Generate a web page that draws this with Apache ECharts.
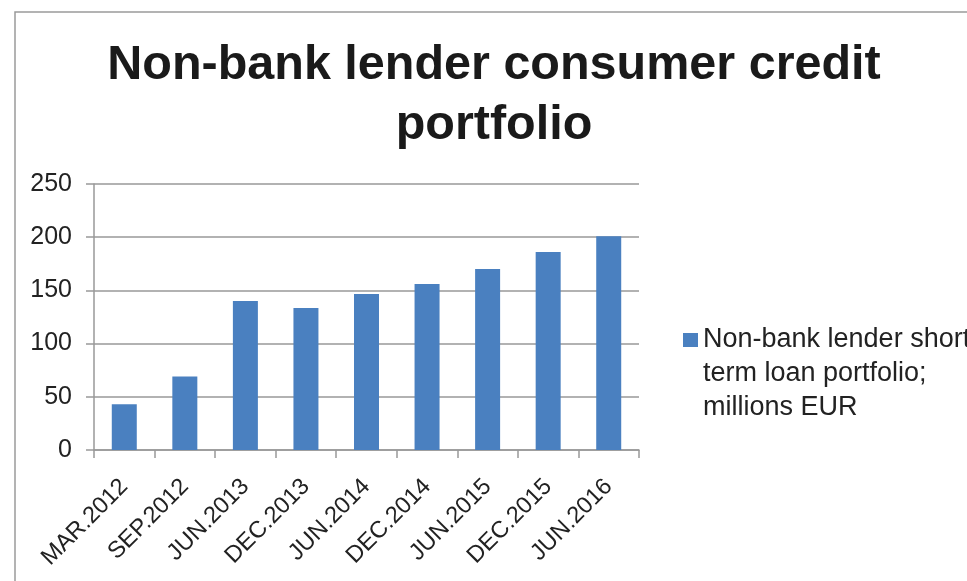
<!DOCTYPE html>
<html>
<head>
<meta charset="utf-8">
<script src="https://cdn.jsdelivr.net/npm/echarts@6/dist/echarts.min.js"></script>
<style>
html,body{margin:0;padding:0;background:#fff;}
#chart{width:967px;height:581px;}
</style>
</head>
<body>
<div id="chart"></div>
<script>
var categories = ['MAR.2012','SEP.2012','JUN.2013','DEC.2013','JUN.2014','DEC.2014','JUN.2015','DEC.2015','JUN.2016'];
var seriesName = 'Non-bank lender short\nterm loan portfolio;\nmillions EUR';
var values = [43, 69, 140, 133.5, 146.5, 156, 170, 186, 201];
var yTicks = [0, 50, 100, 150, 200, 250];

var font = 'Liberation Sans, Arial, Helvetica, sans-serif';
var chart = echarts.init(document.getElementById('chart'));
chart.setOption({
  animation: false,
  backgroundColor: '#fff',
  textStyle: {fontFamily: font},
  title: {
    text: 'Non-bank lender consumer credit\nportfolio',
    left: 494,
    textAlign: 'center',
    top: 36,
    padding: 0,
    textStyle: {fontSize: 48.5, fontWeight: 'bold', color: '#1a1a1a', lineHeight: 60, fontFamily: font}
  },
  graphic: [{
    type: 'rect',
    shape: {x: 15, y: 12, width: 2000, height: 2000},
    style: {fill: 'none', stroke: '#9a9a9a', lineWidth: 1.5},
    silent: true
  }],
  legend: {
    orient: 'vertical',
    left: 683,
    top: 255,
    padding: 0,
    itemWidth: 15,
    itemHeight: 14,
    icon: 'rect',
    formatter: function (name) { return '\n\n' + name; },
    textStyle: {fontSize: 27, color: '#222', lineHeight: 34, fontFamily: font},
    data: [seriesName]
  },
  grid: {left: 94, right: 328, top: 184, bottom: 131, containLabel: false},
  xAxis: {
    type: 'category',
    data: categories,
    boundaryGap: true,
    axisLine: {lineStyle: {color: '#999', width: 1.5}},
    axisTick: {show: true, alignWithLabel: false, length: 8, lineStyle: {color: '#999', width: 1.5}},
    axisLabel: {rotate: 45, fontSize: 23.5, color: '#222', margin: 33, padding: [38, 0, 0, 0], interval: 0, fontFamily: font}
  },
  yAxis: {
    type: 'value',
    min: yTicks[0],
    max: yTicks[yTicks.length - 1],
    interval: yTicks[1] - yTicks[0],
    axisLine: {show: true, lineStyle: {color: '#999', width: 1.5}},
    axisTick: {show: true, length: 8, lineStyle: {color: '#999', width: 1.5}},
    axisLabel: {fontSize: 25, color: '#222', margin: 22, fontFamily: font},
    splitLine: {show: true, lineStyle: {color: '#999', width: 1.5}}
  },
  series: [{
    name: seriesName,
    type: 'bar',
    data: values,
    barWidth: 25,
    itemStyle: {color: '#4a80c0'}
  }]
});
</script>
</body>
</html>
